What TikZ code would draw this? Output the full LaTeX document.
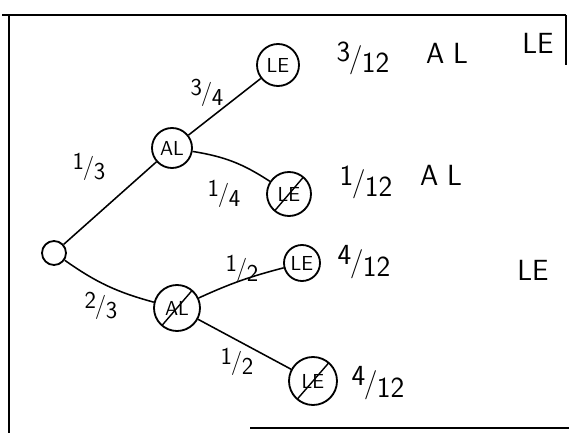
\documentclass[tikz,border=0pt]{standalone}
\usetikzlibrary{positioning}
\usepackage{xcolor}

\newcommand{\slfrac}[2]{\raisebox{.5ex}{#1}\kern-.05em/\kern-.02em\raisebox{-.45ex}{#2}}

\begin{document}
\begin{tikzpicture}[
    font=\sffamily,
    state/.style={circle,draw,line width=1.3pt,minimum size=1cm,inner sep=0pt,
                  font=\sffamily\Large},
    crossed/.style={state,path picture={\draw[line width=1pt]
        ([shift={(-4pt,-2pt)}]path picture bounding box.north east) --
        ([shift={(4pt,2pt)}]path picture bounding box.south west);}},
    branch/.style={line width=1.1pt},
    prob/.style={font=\sffamily\LARGE},
    result/.style={font=\sffamily\huge}
  ]
  \useasboundingbox (0,0) rectangle (14.225,10.825);

  % frame
  \draw[line width=0.9pt] (0.05,10.45) -- (14.15,10.45);
  \draw[line width=0.9pt] (0.225,10.45) -- (0.225,0);
  \draw[line width=0.9pt] (6.25,0.125) -- (14.225,0.125);
  \draw[line width=0.8pt] (14.15,10.45) -- (14.15,9.2);

  % tree nodes
  \node[circle,draw,line width=1.3pt,minimum size=0.6cm,inner sep=0pt] (root) at (1.35,4.5) {};
  \node[state] (al1) at (4.3,7.125) {AL};
  \node[state,minimum size=1.05cm] (le1) at (6.95,9.2) {LE};
  \node[crossed,minimum size=1.1cm] (le2) at (7.225,5.975) {LE};
  \node[state,minimum size=0.9cm] (le3) at (7.55,4.25) {LE};
  \node[crossed,minimum size=1.15cm] (al2) at (4.425,3.125) {AL};
  \node[crossed,minimum size=1.2cm] (le4) at (7.825,1.3) {LE};

  % branches
  \draw[branch] (root) -- (al1);
  \draw[branch] (root) to[bend right=10] (al2);
  \draw[branch] (al1) -- (le1);
  \draw[branch] (al1) to[bend left=12] (le2);
  \draw[branch] (al2) to[bend left=5] (le3);
  \draw[branch] (al2) -- (le4);

  % branch probabilities
  \node[prob] (p34) at (5.175,8.5) {\slfrac{3}{4}};
  \node[prob] (p13) at (2.225,6.65) {\slfrac{1}{3}};
  \node[prob] (p14) at (5.6,5.975) {\slfrac{1}{4}};
  \node[prob] (p23) at (2.525,3.175) {\slfrac{2}{3}};
  \node[prob] (p12a) at (6.05,4.1) {\slfrac{1}{2}};
  \node[prob] (p12b) at (5.925,1.775) {\slfrac{1}{2}};

  % outcomes
  \node[result] (r1) at (9.075,9.375) {\slfrac{3}{12}};
  \node[result] (r1al) at (11.175,9.5) {A\hspace{.3em}L};
  \node[result] (r1le) at (13.45,9.75) {LE};
  \node[result] (r2) at (9.15,6.275) {\slfrac{1}{12}};
  \node[result] (r2al) at (11.025,6.45) {A\hspace{.3em}L};
  \node[result] (r3) at (9.1,4.275) {\slfrac{4}{12}};
  \node[result] (r3le) at (13.325,4.075) {LE};
  \node[result] (r4) at (9.45,1.25) {\slfrac{4}{12}};
\end{tikzpicture}
\end{document}
